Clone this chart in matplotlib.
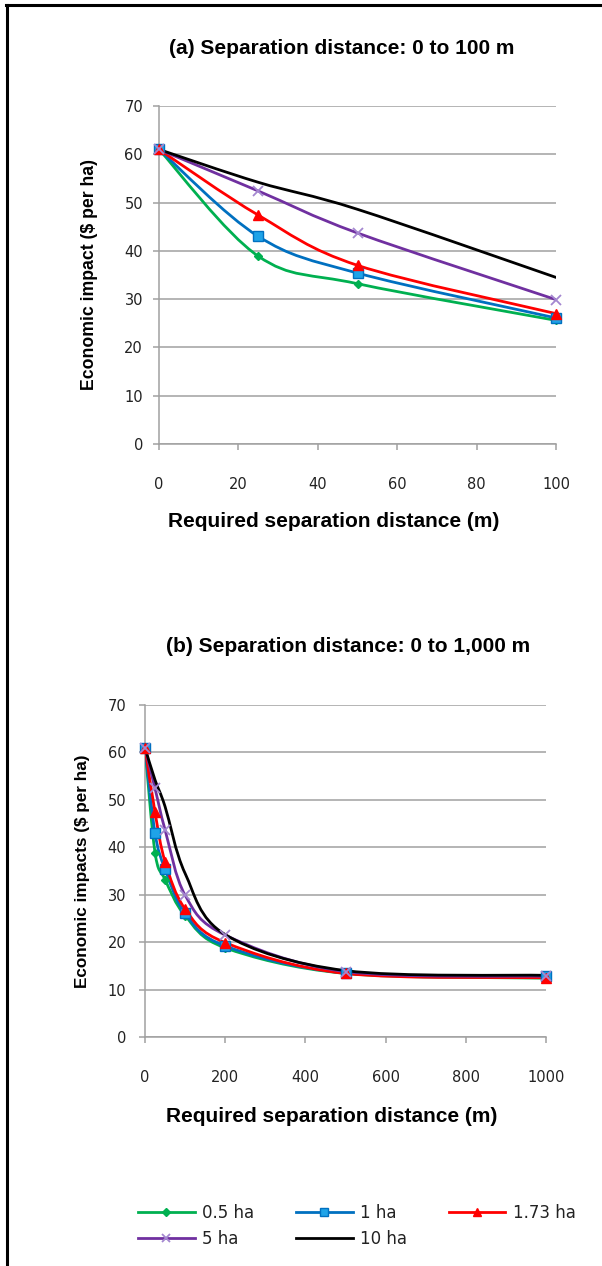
#!/usr/bin/env python3
"""
Economic impact vs required separation distance, two panels.
"""

import matplotlib
matplotlib.use("Agg")
import matplotlib.pyplot as plt
from matplotlib.lines import Line2D
from matplotlib.patches import PathPatch
from matplotlib.path import Path

# --- data -----------------------------------------------------------------
dist_a = [0, 25, 50, 100]
dist_b = [0, 25, 50, 100, 200, 500, 1000]

impact_05ha = [61, 38.9, 33.2, 25.6, 18.8, 13.4, 12.4]
impact_1ha = [61, 43.0, 35.4, 26.1, 19.2, 13.5, 12.8]
impact_173ha = [61, 47.4, 37.0, 27.0, 19.9, 13.4, 12.5]
impact_5ha = [61, 52.4, 43.7, 29.9, 21.5, 13.8, 12.8]
impact_10ha = [61, 54.2, 48.6, 34.5, 21.6, 14.0, 13.0]

series_labels = ["0.5 ha", "1 ha", "1.73 ha", "5 ha", "10 ha"]
series_values = [impact_05ha, impact_1ha, impact_173ha, impact_5ha, impact_10ha]

title_a = "(a) Separation distance: 0 to 100 m"
title_b = "(b) Separation distance: 0 to 1,000 m"
xlabel = "Required separation distance (m)"
ylabel_a = "Economic impact ($ per ha)"
ylabel_b = "Economic impacts ($ per ha)"

# --- styles ---------------------------------------------------------------
STYLES = [
    dict(color="#00B050", marker="D", ms=4.5, mfc="#00B050", mec="#00B050", mew=1.0),
    dict(color="#0070C0", marker="s", ms=7, mfc="#1FA3E8", mec="#0070C0", mew=1.0),
    dict(color="#FF0000", marker="^", ms=7, mfc="#FF0000", mec="#FF0000", mew=1.0),
    dict(color="#7030A0", marker="x", ms=7, mfc="none", mec="#A487D0", mew=1.3),
    dict(color="#000000", marker=None, ms=0, mfc="none", mec="none", mew=0),
]
GRID = "#A0A0A0"
LW = 2.0
BOLD = dict(family="Liberation Sans", weight="bold")
TICKFONT = dict(family="DejaVu Sans", size=10.5)


def smooth_path(xs, ys):
    # Excel-style smoothed line: Catmull-Rom segments as cubic Bezier curves
    pts = list(zip(xs, ys))
    verts = [pts[0]]
    codes = [Path.MOVETO]
    n = len(pts)
    for i in range(n - 1):
        p0 = pts[i - 1] if i > 0 else pts[i]
        p1 = pts[i]
        p2 = pts[i + 1]
        p3 = pts[i + 2] if i + 2 < n else pts[i + 1]
        c1 = (p1[0] + (p2[0] - p0[0]) / 6.0, p1[1] + (p2[1] - p0[1]) / 6.0)
        c2 = (p2[0] - (p3[0] - p1[0]) / 6.0, p2[1] - (p3[1] - p1[1]) / 6.0)
        verts += [c1, c2, p2]
        codes += [Path.CURVE4] * 3
    return Path(verts, codes)


def draw_panel(ax, xs, xmax, xticks, ytick_pad, xtick_pad):
    for vals, st in zip(series_values, STYLES):
        ys = vals[: len(xs)]
        ax.add_patch(PathPatch(smooth_path(xs, ys), facecolor="none",
                               edgecolor=st["color"], lw=LW, zorder=3,
                               capstyle="round", joinstyle="round"))
        if st["marker"]:
            ax.plot(xs, ys, linestyle="none", marker=st["marker"], ms=st["ms"],
                    mfc=st["mfc"], mec=st["mec"], mew=st["mew"], zorder=4,
                    clip_on=False)
    ax.set_xlim(0, xmax)
    ax.set_ylim(0, 70)
    ax.set_xticks(xticks)
    ax.set_yticks(range(0, 71, 10))
    ax.yaxis.grid(True, color=GRID, lw=1.1)
    ax.set_axisbelow(True)
    for s in ("top", "right"):
        ax.spines[s].set_visible(False)
    for s in ("left", "bottom"):
        ax.spines[s].set_color(GRID)
        ax.spines[s].set_linewidth(1.1)
    ax.tick_params(axis="both", colors=GRID, length=4.5, width=1.1, direction="out")
    ax.tick_params(axis="y", pad=ytick_pad)
    ax.tick_params(axis="x", pad=xtick_pad)
    for lab in ax.get_xticklabels() + ax.get_yticklabels():
        lab.set_color("#222222")
        lab.set_fontfamily(TICKFONT["family"])
        lab.set_fontsize(TICKFONT["size"])


def main():
    W, H = 602, 1266
    fig = plt.figure(figsize=(W / 100, H / 100), dpi=100)

    def fx(px):
        return px / W

    def fy(py):
        return 1 - py / H

    # panel (a)
    ax_a = fig.add_axes([fx(159), fy(444), fx(556 - 159), (444 - 106) / H])
    draw_panel(ax_a, dist_a, 100, [0, 20, 40, 60, 80, 100], 7, 19)

    # panel (b)
    ax_b = fig.add_axes([fx(145), fy(1037), fx(546 - 145), (1037 - 705) / H])
    draw_panel(ax_b, dist_b, 1000, [0, 200, 400, 600, 800, 1000], 9, 19)

    hsize = 15
    fig.text(fx(342), fy(48), title_a, ha="center", va="center", fontsize=hsize, **BOLD)
    fig.text(fx(348), fy(647), title_b, ha="center", va="center", fontsize=hsize, **BOLD)
    fig.text(fx(334), fy(522), xlabel, ha="center", va="center", fontsize=hsize, **BOLD)
    fig.text(fx(332), fy(1116), xlabel, ha="center", va="center", fontsize=hsize, **BOLD)
    fig.text(fx(90), fy(275), ylabel_a, ha="center", va="center", rotation=90,
             fontsize=12.7, **BOLD)
    fig.text(fx(82), fy(871), ylabel_b, ha="center", va="center", rotation=90,
             fontsize=12.3, **BOLD)

    # legend (row-major order: matplotlib fills columns first)
    handles = []
    for st, lab in zip(STYLES, series_labels):
        handles.append(Line2D([], [], color=st["color"], lw=LW,
                              marker=st["marker"] or "None", ms=st["ms"] * 0.9,
                              mfc=st["mfc"], mec=st["mec"], mew=st["mew"], label=lab))
    order = [0, 3, 1, 4, 2]
    leg = fig.legend([handles[i] for i in order], [series_labels[i] for i in order],
                     ncol=3, loc="upper left", bbox_to_anchor=(fx(138), fy(1204)),
                     frameon=False, borderpad=0, borderaxespad=0,
                     handlelength=3.4, handletextpad=0.45,
                     columnspacing=2.5, labelspacing=0.45,
                     prop=dict(family="DejaVu Sans", size=12))
    for t in leg.get_texts():
        t.set_color("#222222")

    # frame lines on the left and top edge
    fig.add_artist(Line2D([fx(7), fx(7)], [fy(5), 0], color="black", lw=2.2,
                          transform=fig.transFigure))
    fig.add_artist(Line2D([fx(6), 1], [fy(5), fy(5)], color="black", lw=2.2,
                          transform=fig.transFigure))

    fig.savefig("out.png", dpi=100)
    plt.close(fig)
    return 0


if __name__ == "__main__":
    raise SystemExit(main())
